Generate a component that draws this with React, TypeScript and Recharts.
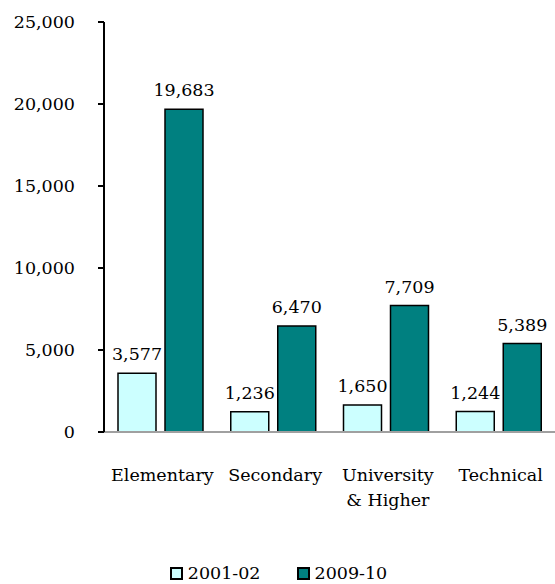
import React from 'react';
import { BarChart, Bar, XAxis, YAxis, LabelList } from 'recharts';

const categories = ['Elementary', 'Secondary', 'University\n& Higher', 'Technical'];
const values2001 = [3577, 1236, 1650, 1244];
const values2009 = [19683, 6470, 7709, 5389];
const seriesNames = ['2001-02', '2009-10'];
const yTicks = [0, 5000, 10000, 15000, 20000, 25000];

const FONT = '"DejaVu Serif", serif';
const FS = 17.5;
const LIGHT = '#CCFFFF';
const DARK = '#008080';

const data = categories.map((name, i) => ({
  name,
  a: values2001[i],
  b: values2009[i],
}));

const fmt = (v: number) => v.toLocaleString('en-US');

const CategoryTick = ({ x, y, payload }: any) => {
  const lines = String(payload.value).split('\n');
  return (
    <g>
      {lines.map((line, i) => (
        <text
          key={i}
          x={x + 2}
          y={y + 49 + i * 25}
          textAnchor="middle"
          fill="#000"
          fontSize={FS}
          fontFamily={FONT}
        >
          {line}
        </text>
      ))}
    </g>
  );
};

export default function App() {
  return (
    <div style={{ position: 'absolute', left: 0, top: 0, width: 555, height: 584, background: '#fff' }}>
      <BarChart
        width={555}
        height={584}
        data={data}
        margin={{ top: 22, right: 0, left: 0, bottom: 0 }}
        barSize={38}
        barGap={9}
      >
        <XAxis
          dataKey="name"
          height={152}
          tickLine={false}
          tickSize={0}
          tickMargin={0}
          axisLine={{ stroke: '#a0a0a0', strokeWidth: 2 }}
          tick={<CategoryTick />}
          interval={0}
        />
        <YAxis
          width={104}
          domain={[0, 25000]}
          ticks={yTicks}
          tickFormatter={fmt}
          tickSize={6}
          tickMargin={23}
          axisLine={{ stroke: '#000', strokeWidth: 2 }}
          tickLine={{ stroke: '#000', strokeWidth: 2 }}
          tick={{ fill: '#000', fontSize: FS, fontFamily: FONT }}
        />
        <Bar dataKey="a" name={seriesNames[0]} fill={LIGHT} stroke="#000" strokeWidth={1.5} isAnimationActive={false}>
          <LabelList dataKey="a" position="top" offset={13} formatter={(v: any) => fmt(Number(v))} fill="#000" fontSize={FS} fontFamily={FONT} />
        </Bar>
        <Bar dataKey="b" name={seriesNames[1]} fill={DARK} stroke="#000" strokeWidth={1.5} isAnimationActive={false}>
          <LabelList dataKey="b" position="top" offset={13} formatter={(v: any) => fmt(Number(v))} fill="#000" fontSize={FS} fontFamily={FONT} />
        </Bar>
      </BarChart>
      {/* Legend */}
      <div
        style={{
          position: 'absolute',
          left: 0,
          top: 562,
          width: 557,
          display: 'flex',
          justifyContent: 'center',
          gap: 36,
          fontFamily: FONT,
          fontSize: FS,
          lineHeight: '22px',
        }}
      >
        {[LIGHT, DARK].map((c, i) => (
          <div key={seriesNames[i]} style={{ display: 'flex', alignItems: 'center', gap: 5 }}>
            <div style={{ width: 9, height: 9, background: c, border: '2px solid #000' }} />
            <span>{seriesNames[i]}</span>
          </div>
        ))}
      </div>
    </div>
  );
}
